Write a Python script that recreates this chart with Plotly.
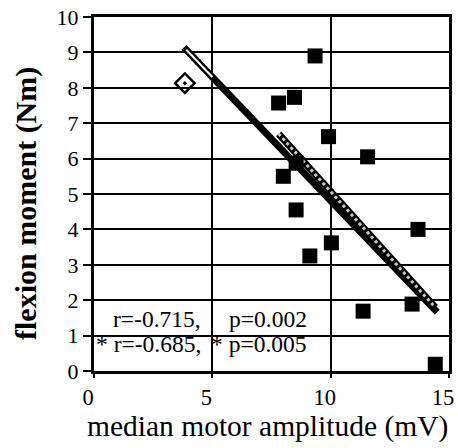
import plotly.graph_objects as go

# data
amp_all = [9.34, 7.80, 8.47, 9.91, 11.56, 8.54, 8.00, 8.54, 13.69, 10.03, 9.12, 11.37, 13.44, 14.42]
mom_all = [8.90, 7.57, 7.73, 6.62, 6.05, 5.87, 5.50, 4.55, 4.00, 3.62, 3.25, 1.69, 1.89, 0.19]
outlier_amp = [3.84]
outlier_mom = [8.13]
# regression lines as drawn: slope, intercept, x extent
fit_all = [-0.699, 11.80]
fit_all_x = [3.80, 14.50]
fit_excl = [-0.741, 12.48]
fit_excl_x = [7.80, 14.42]
x_ticks = [0, 5, 10, 15]
x_tick_labels = ["0", "5", "10", "15"]
y_ticks = list(range(0, 11))
stats_line1 = ["r=-0.715,", "p=0.002"]
stats_line2 = ["* r=-0.685,", "* p=0.005"]

FONT = "Liberation Serif"
NB = "\u00a0"

W, H = 458, 448
ML, MR, MT, MB = 94, 9, 17, 77
PW, PH = W - ML - MR, H - MT - MB


def fy(fit, xs):
    return [fit[0] * v + fit[1] for v in xs]


hollow_x = [fit_all_x[0] + 0.1, 5.0]

fig = go.Figure()
fig.add_trace(go.Scatter(x=fit_all_x, y=fy(fit_all, fit_all_x), mode="lines",
                         line=dict(color="black", width=7), hoverinfo="skip"))
fig.add_trace(go.Scatter(x=hollow_x, y=fy(fit_all, hollow_x), mode="lines",
                         line=dict(color="white", width=2), hoverinfo="skip"))
fig.add_trace(go.Scatter(x=fit_excl_x, y=fy(fit_excl, fit_excl_x), mode="lines",
                         line=dict(color="black", width=7), hoverinfo="skip"))
fig.add_trace(go.Scatter(x=fit_excl_x, y=fy(fit_excl, fit_excl_x), mode="lines",
                         line=dict(color="#c8c8c8", width=3, dash="dot"), hoverinfo="skip"))
fig.add_trace(go.Scatter(x=amp_all, y=mom_all, mode="markers",
                         marker=dict(symbol="square", size=15, color="black")))
fig.add_trace(go.Scatter(x=outlier_amp, y=outlier_mom, mode="markers",
                         marker=dict(symbol="diamond-open-dot", size=15, color="black",
                                     line=dict(width=2.5, color="black"))))

fig.update_layout(
    width=W, height=H, showlegend=False,
    margin=dict(l=ML, r=MR, t=MT, b=MB, autoexpand=False),
    paper_bgcolor="white", plot_bgcolor="white",
    font=dict(family=FONT, color="black"),
    xaxis=dict(range=[0, 15], tickvals=x_ticks, ticktext=x_tick_labels, ticklabelshift=-6,
               showgrid=True, gridcolor="black", gridwidth=2,
               showline=True, linecolor="black", linewidth=3, mirror=True,
               ticks="outside", ticklen=4, tickwidth=2, tickcolor="black",
               tickfont=dict(size=22.5, family=FONT), zeroline=False,
               ticklabeloverflow="allow"),
    yaxis=dict(range=[0, 10], tickvals=y_ticks, showgrid=True, gridcolor="black", gridwidth=2,
               showline=True, linecolor="black", linewidth=3, mirror=True,
               ticks="outside", ticklen=8, tickwidth=2, tickcolor="black",
               ticksuffix=NB * 4, ticklabeloverflow="allow",
               tickfont=dict(size=22, family=FONT), zeroline=False),
)

# axis titles (page positions: y title centre (26, 204), x title centre y 426)
fig.add_annotation(x=(26 - ML) / PW, y=(H - MB - 204) / PH,
                   xref="paper", yref="paper", text="<b>flexion moment (Nm)</b>",
                   showarrow=False, textangle=-90, xanchor="center", yanchor="middle",
                   font=dict(size=30, family=FONT))
fig.add_annotation(x=0.49, y=(H - MB - 426) / PH,
                   xref="paper", yref="paper", text="median motor amplitude (mV)",
                   showarrow=False, xanchor="center", yanchor="middle",
                   font=dict(size=29.5, family=FONT))

for txt, xr, yv in [(stats_line1[0], 4.62, 1.47), (stats_line1[1], 9.1, 1.47),
                    (stats_line2[0], 4.62, 0.77), (stats_line2[1], 9.1, 0.77)]:
    fig.add_annotation(x=xr, y=yv, xref="x", yref="y", text=txt, showarrow=False,
                       xanchor="right", yanchor="middle", font=dict(size=23.5, family=FONT))

fig.write_html("out.html", config={"displayModeBar": False},
               post_script="document.body.style.margin='0px';")
